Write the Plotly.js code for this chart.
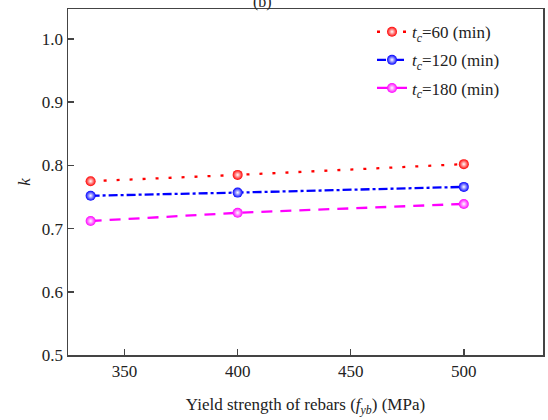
<!DOCTYPE html>
<html>
<head>
<meta charset="utf-8">
<script src="https://cdn.plot.ly/plotly-3.0.1.min.js"></script>
<style>html,body{margin:0;padding:0;background:#fff;}#chart{width:548px;height:420px;}</style>
</head>
<body>
<div id="chart"></div>
<script>
const fyb = [335, 400, 500];
const k60 = [0.775, 0.785, 0.802];
const k120 = [0.752, 0.757, 0.766];
const k180 = [0.712, 0.725, 0.739];
const seriesNames = ['<i>t</i><sub><i>c</i></sub>=60 (min)', '<i>t</i><sub><i>c</i></sub>=120 (min)', '<i>t</i><sub><i>c</i></sub>=180 (min)'];

const fam = "Liberation Serif";
const font = {family: fam, color: '#222', size: 16};

function tr(y, name, color, dash, g) {
  return {
    x: fyb, y: y, name: name, type: 'scatter', mode: 'lines+markers', legendgroup: g,
    line: {color: color, width: 2.3, dash: dash},
    marker: {color: color, size: 10, symbol: 'circle', gradient: {type: 'radial', color: '#ffffff'}, line: {width: 0}}
  };
}

const data = [
  tr(k60, seriesNames[0], '#ff0000', '3px,10px', 'a'),
  tr(k120, seriesNames[1], '#0000ff', '9px,3px,3px,3px', 'b'),
  tr(k180, seriesNames[2], '#ff00ff', '11px,8px', 'c')
];

const layout = {
  width: 548, height: 420,
  margin: {l: 68, r: 5, t: 9, b: 65},
  paper_bgcolor: '#fff', plot_bgcolor: '#fff',
  font: font,
  showlegend: true,
  legend: {x: 0.64, y: 0.985, xanchor: 'left', yanchor: 'top', bgcolor: 'rgba(0,0,0,0)', font: {family: fam, size: 17, color: '#222'}, traceorder: 'grouped', tracegroupgap: 3},
  xaxis: {
    range: [325, 535], tickvals: [350, 400, 450, 500], ticks: 'inside', ticklen: 6, tickwidth: 1.5,
    showline: true, linecolor: '#444', linewidth: 1.5, mirror: true, showgrid: false, zeroline: false,
    tickfont: {family: fam, size: 17},
    title: {text: 'Yield strength of rebars (<i>f</i><sub><i>yb</i></sub>) (MPa)', font: {family: fam, size: 17}, standoff: 18}
  },
  yaxis: {
    range: [0.5, 1.0475], tickvals: [0.5, 0.6, 0.7, 0.8, 0.9, 1.0], tickformat: '.1f', ticks: 'inside', ticklen: 6, tickwidth: 1.5,
    showline: true, linecolor: '#444', linewidth: 1.5, mirror: true, showgrid: false, zeroline: false,
    tickfont: {family: fam, size: 17},
    title: {text: '<i>k</i>', font: {family: fam, size: 17}, standoff: 7}
  },
  annotations: [{
    text: '(b)', xref: 'paper', yref: 'paper', x: 0.41, y: 1.0, xanchor: 'center', yanchor: 'bottom',
    yshift: -4, showarrow: false, font: {size: 16, family: fam, color: '#222'}
  }]
};

Plotly.newPlot('chart', data, layout, {displayModeBar: false, staticPlot: true});
</script>
</body>
</html>
